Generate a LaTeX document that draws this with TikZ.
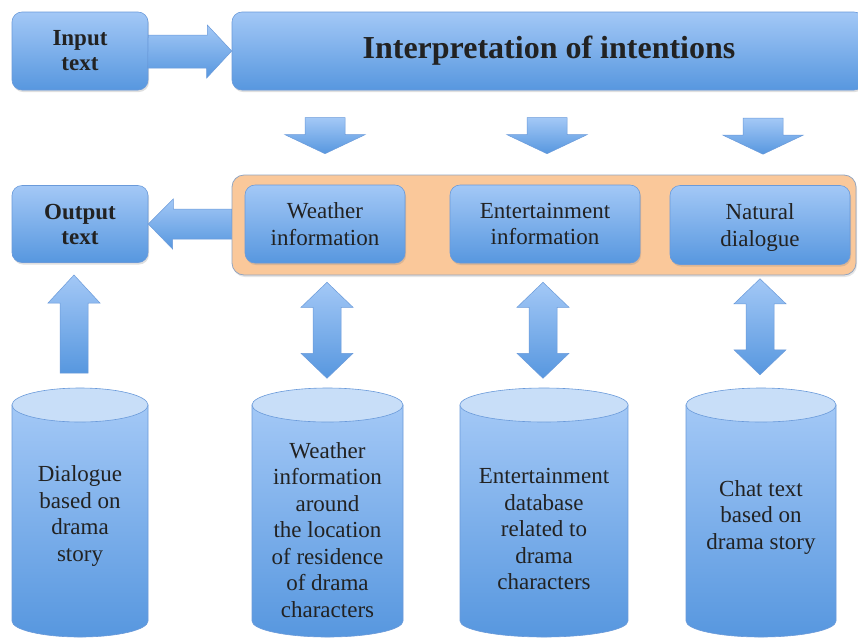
\documentclass[tikz,border=0pt]{standalone}
\usepackage{fontspec}
\setmainfont{Liberation Serif}
\usetikzlibrary{shadows,calc}
\definecolor{btop}{HTML}{A3C8F6}
\definecolor{bbot}{HTML}{5797DF}
\definecolor{bline}{HTML}{6A9ADA}
\definecolor{orfill}{HTML}{FAC89A}
\definecolor{orline}{HTML}{93A5C0}
\definecolor{ctop}{HTML}{C8DEF8}
\definecolor{txt}{HTML}{222222}
\tikzset{
  bluebox/.style={rounded corners=10pt, top color=btop, bottom color=bbot, draw=bline, line width=0.6pt,
    drop shadow={shadow xshift=1pt,shadow yshift=-2pt,opacity=0.25}, text=txt, align=center, inner sep=0pt},
  bodyfont/.style={font=\fontsize{23}{26.5}\selectfont},
  boldfont/.style={font=\fontsize{23}{25}\selectfont\bfseries},
  blockarrow/.style={top color=btop, bottom color=bbot, draw=bline, line width=0.5pt},
  cylbody/.style={top color=btop, bottom color=bbot, draw=bline, line width=0.6pt},
  cyltop/.style={fill=ctop, draw=bline, line width=0.6pt},
  cyltext/.style={bodyfont, text=txt, align=center},
}
\newcommand\drumshape[2]{%
  \path[cylbody] (#1,405) -- (#1,621) arc[start angle=180,end angle=0,x radius={(#2-#1)/2},y radius=16] -- (#2,405) -- cycle;
  \path[cyltop] ({(#1+#2)/2},405) ellipse[x radius={(#2-#1)/2},y radius=17];
}
\begin{document}
\begin{tikzpicture}[x=1pt,y=-1pt]
\fill[white] (0,0) rectangle (858,638);
\useasboundingbox (0,0) rectangle (858,638);

% top row
\node[bluebox, boldfont, minimum width=136pt, minimum height=78pt] (in) at (80,51) {Input\\text};
\node[bluebox, minimum width=632pt, minimum height=78pt] (interp) at (548,51) {};
\node[font=\fontsize{32}{35}\selectfont\bfseries, text=txt, inner sep=0pt] (title) at (549,51) {Interpretation of intentions};

% orange group
\node[rounded corners=12pt, fill=orfill, draw=orline, line width=0.8pt, minimum width=624pt, minimum height=100pt,
  drop shadow={shadow xshift=1pt,shadow yshift=-2pt,opacity=0.2}] (group) at (544,225) {};
\node[bluebox, bodyfont, minimum width=160pt, minimum height=78pt] (weather) at (325,224) {Weather\\information};
\node[bluebox, bodyfont, minimum width=190pt, minimum height=78pt] (ent) at (545,224) {Entertainment\\information};
\node[bluebox, bodyfont, minimum width=180pt, minimum height=79pt] (nat) at (760,225) {Natural\\\raisebox{0pt}[\height][0pt]{dialogue}};

\node[bluebox, boldfont, minimum width=136pt, minimum height=77pt] (out) at (80,224) {Output\\text};

% arrow input -> interpretation
\path[blockarrow] (in.east) ++(0,-16) -- ++(59,0) -- ++(0,-10) -- (interp.west) -- ++(-25,27) -- ++(0,-10) -- ++(-59,0) -- cycle;

% arrow group -> output
\path[blockarrow] (out.east) -- ++(25,-25) -- ++(0,10) -- ($(out.east -| group.west)+(0,-15)$) -- ++(0,30) -- ++(-59,0) -- ++(0,10) -- cycle;

% down arrows
\foreach \n/\dx in {weather/0, ent/2, nat/3}{
  \path[blockarrow] ($(\n.north)+(\dx,-31)$) -- ++(-40,-19) -- ++(20,0) -- ++(0,-17) -- ++(40,0) -- ++(0,17) -- ++(20,0) -- cycle;
}

% cylinders
\drumshape{12}{148}
\drumshape{252}{403}
\drumshape{460}{628}
\drumshape{686}{836}

\node[cyltext] (c1) at (80,516) {Dialogue\\based on\\drama\\story};
\node[cyltext] (c2) at (327.5,530) {Weather\\information\\around\\the location\\of residence\\of drama\\characters};
\node[cyltext] (c3) at (544,529) {Entertainment\\database\\related to\\drama\\characters};
\node[cyltext] (c4) at (761,517) {Chat text\\based on\\drama story};

% up arrow cylinder 1 -> output
\coordinate (upt) at (74,275);
\path[blockarrow] (upt) -- ++(26,28) -- ++(-12,0) -- ++(0,70) -- ++(-28,0) -- ++(0,-70) -- ++(-12,0) -- cycle;

% double arrows
\foreach \n/\dx/\ta/\len in {weather/2/19/46, ent/-2/19/46, nat/0/14/46}{
  \path[blockarrow] ($(\n.south)+(\dx,\ta)$) -- ++(26,25) -- ++(-12,0) -- ++(0,\len) -- ++(12,0) -- ++(-26,25)
     -- ++(-26,-25) -- ++(12,0) -- ++(0,-\len) -- ++(-12,0) -- cycle;
}
\end{tikzpicture}
\end{document}
